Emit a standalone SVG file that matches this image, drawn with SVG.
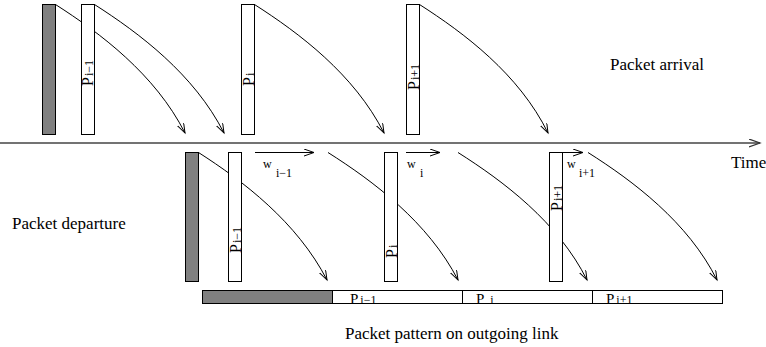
<svg xmlns="http://www.w3.org/2000/svg" width="766" height="347" viewBox="0 0 766 347">
<defs>
<marker id="ah" markerWidth="12" markerHeight="10" refX="10" refY="3.5" orient="auto" markerUnits="userSpaceOnUse">
<path d="M0,0 L10,3.5 L0,7" fill="none" stroke="#000" stroke-width="1"/>
</marker>
<marker id="ahT" markerWidth="14" markerHeight="10" refX="11" refY="4" orient="auto" markerUnits="userSpaceOnUse">
<path d="M0,0 L11,4 L0,8" fill="none" stroke="#333" stroke-width="1.2"/>
</marker>
<style>
.bar{fill:#fff;stroke:#000;stroke-width:1}
.gbar{fill:#808080;stroke:#000;stroke-width:1}
.cur{fill:none;stroke:#000;stroke-width:1;marker-end:url(#ah)}
.t{font-family:"Liberation Serif","Times New Roman",serif;fill:#000}
.lbl{font-size:17px}
.p{font-size:16px}
.s{font-size:12px}
.bp{font-size:15px}
.bs{font-size:12px}
.w{font-size:12px}
</style>
</defs>

<g id="connectors">
<line x1="0" y1="143" x2="760" y2="143" stroke="#444" stroke-width="1.5" marker-end="url(#ahT)"/>
<path class="cur" d="M55.5,4.5 C100,33 155,74 185,133"/>
<path class="cur" d="M94.5,4.5 C139,33 194,74 224,133"/>
<path class="cur" d="M254.5,4.5 C299,33 354,74 384,133"/>
<path class="cur" d="M419.5,4.5 C464,33 519,74 548,133"/>
<path class="cur" d="M198.5,152.5 C243,181 297,222 327,280"/>
<path class="cur" d="M328,152.5 C373,181 428,222 458,280"/>
<path class="cur" d="M458,152.5 C503,181 558,222 587,280"/>
<path class="cur" d="M588,152.5 C633,181 688,222 717,280"/>
<line class="cur" x1="255" y1="152.5" x2="314" y2="152.5"/>
<line class="cur" x1="406" y1="152.5" x2="440" y2="152.5"/>
<line class="cur" x1="562" y1="152.5" x2="583" y2="152.5"/>
</g>

<g id="arrival-grey"><rect class="gbar" x="42.5" y="4.5" width="13" height="130"/></g>
<g id="arrival-p-im1"><rect class="bar" x="81.5" y="4.5" width="13" height="130"/>
<text class="t" transform="translate(93,86) rotate(-90)"><tspan class="p">P</tspan><tspan class="s" dx="1">i−1</tspan></text></g>
<g id="arrival-p-i"><rect class="bar" x="241.5" y="4.5" width="13" height="130"/>
<text class="t" transform="translate(254,86) rotate(-90)"><tspan class="p">P</tspan><tspan class="s" dx="1">i</tspan></text></g>
<g id="arrival-p-ip1"><rect class="bar" x="406.5" y="4.5" width="13" height="130"/>
<text class="t" transform="translate(419,90) rotate(-90)"><tspan class="p">P</tspan><tspan class="s" dx="1">i+1</tspan></text></g>

<g id="departure-grey"><rect class="gbar" x="185.5" y="152.5" width="13" height="129"/></g>
<g id="departure-p-im1"><rect class="bar" x="228.5" y="152.5" width="13" height="129"/>
<text class="t" transform="translate(241,253) rotate(-90)"><tspan class="p">P</tspan><tspan class="s" dx="1">i−1</tspan></text></g>
<g id="departure-p-i"><rect class="bar" x="384.5" y="152.5" width="13" height="129"/>
<text class="t" transform="translate(397,258) rotate(-90)"><tspan class="p">P</tspan><tspan class="s" dx="1">i</tspan></text></g>
<g id="departure-p-ip1"><rect class="bar" x="549.5" y="152.5" width="13" height="129"/>
<text class="t" transform="translate(562,211) rotate(-90)"><tspan class="p">P</tspan><tspan class="s" dx="1">i+1</tspan></text></g>

<g id="w-labels">
<text class="t w" x="263" y="168">w</text><text class="t w" x="276" y="177">i−1</text>
<text class="t w" x="407" y="168">w</text><text class="t w" x="420" y="177">i</text>
<text class="t w" x="567" y="168">w</text><text class="t w" x="579" y="177">i+1</text>
</g>

<g id="outgoing-link">
<rect class="gbar" x="202.5" y="290.5" width="130" height="13"/>
<rect class="bar" x="332.5" y="290.5" width="130" height="13"/>
<rect class="bar" x="462.5" y="290.5" width="130" height="13"/>
<rect class="bar" x="592.5" y="290.5" width="130" height="13"/>
<text class="t" x="350" y="304"><tspan class="bp">P</tspan><tspan class="bs" dx="2">i−1</tspan></text>
<text class="t" x="476" y="304"><tspan class="bp">P</tspan><tspan class="bs" dx="6">i</tspan></text>
<text class="t" x="606" y="304"><tspan class="bp">P</tspan><tspan class="bs" dx="2">i+1</tspan></text>
</g>

<g id="labels">
<text class="t lbl" x="610" y="70">Packet arrival</text>
<text class="t lbl" x="731" y="168">Time</text>
<text class="t lbl" x="12" y="229">Packet departure</text>
<text class="t lbl" x="345" y="339">Packet pattern on outgoing link</text>
</g>
</svg>
